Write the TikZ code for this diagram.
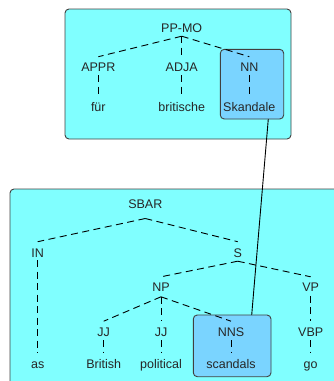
\documentclass[tikz,border=0pt]{standalone}
\usepackage{fontspec}
\setmainfont{Liberation Sans}
\begin{document}
\begin{tikzpicture}[x=1pt,y=-1pt,
  lbl/.style={font=\fontsize{12.5}{14}\selectfont, text=black!85, inner sep=0pt, anchor=base},
  outerbox/.style={draw=black!75, line width=0.9pt, fill={rgb,255:red,128;green,255;blue,255}, rounded corners=4pt},
  innerbox/.style={draw=black!75, line width=0.9pt, fill={rgb,255:red,122;green,212;blue,255}, rounded corners=4pt, inner sep=0pt, outer sep=0pt, anchor=north west},
  treeedge/.style={line width=0.9pt, dash pattern=on 7pt off 4.5pt},
  link/.style={line width=0.9pt}]
\useasboundingbox (0,0) rectangle (334,381);

% container panels
\draw[outerbox] (65,9) rectangle (291,139);
\draw[outerbox] (10,189) rectangle (345,395);

% highlighted leaves
\node[innerbox, minimum width=63.4pt, minimum height=69.7pt] (skbox) at (220.3,49.3) {};
\node[innerbox, minimum width=77.7pt, minimum height=61.7pt] (nnsbox) at (193.3,315) {};

% upper tree
\node[lbl] (ppmo) at (181.7,32.2) {PP-MO};
\node[lbl] (appr) at (98.3,71.2) {APPR};
\node[lbl] (adja) at (181.7,71.2) {ADJA};
\node[lbl] (nn)   at (249.3,71.2) {NN};
\node[lbl] (fuer) at (98.3,111) {für};
\node[lbl] (brit) at (181.7,111) {britische};
\node[lbl] (skan) at (249.3,111) {Skandale};

\foreach \c in {appr,adja,nn}
  \draw[treeedge] ([yshift=-4pt]ppmo.base) -- ([yshift=14.5pt]\c.base);
\draw[treeedge] ([yshift=-4pt]appr.base) -- ([yshift=14pt]fuer.base);
\draw[treeedge] ([yshift=-4pt]adja.base) -- ([yshift=14pt]brit.base);
\draw[treeedge] ([yshift=-4pt]nn.base) -- ([yshift=14pt]skan.base);

% lower tree
\node[lbl] (sbar) at (145.3,208.5) {SBAR};
\node[lbl] (in)   at (37.7,257.2) {IN};
\node[lbl] (s)    at (237.7,257.2) {S};
\node[lbl] (np)   at (161,291.8) {NP};
\node[lbl] (vp)   at (310.7,291.8) {VP};
\node[lbl] (jja)  at (103.7,336.2) {JJ};
\node[lbl] (jjb)  at (161,336.2) {JJ};
\node[lbl] (nns)  at (231,336.2) {NNS};
\node[lbl] (vbp)  at (310.7,336.2) {VBP};
\node[lbl] (as)   at (37.7,368) {as};
\node[lbl] (bri)  at (103.7,368) {British};
\node[lbl] (pol)  at (161,368) {political};
\node[lbl] (sca)  at (231,368) {scandals};
\node[lbl] (go)   at (310.7,368) {go};

\foreach \c in {in,s}
  \draw[treeedge] ([yshift=-10pt]sbar.base) -- ([yshift=15.5pt]\c.base);
\foreach \c in {np,vp}
  \draw[treeedge] ([yshift=-4pt]s.base) -- ([yshift=15pt]\c.base);
\foreach \c in {jja,jjb,nns}
  \draw[treeedge] ([yshift=-5pt]np.base) -- ([yshift=15pt]\c.base);
\draw[treeedge] ([yshift=-4pt]vp.base) -- ([yshift=15pt]vbp.base);
\draw[treeedge] ([yshift=-3pt]in.base) -- ([yshift=15pt]as.base);
\draw[treeedge] ([yshift=-4pt]jja.base) -- ([yshift=16pt]bri.base);
\draw[treeedge] ([yshift=-4pt]jjb.base) -- ([yshift=16pt]pol.base);
\draw[treeedge] ([yshift=-4pt]nns.base) -- ([yshift=16pt]sca.base);
\draw[treeedge] ([yshift=-4pt]vbp.base) -- ([yshift=16pt]go.base);

% alignment link between the two highlighted leaves
\draw[link] ([xshift=-15.4pt]skbox.south east) -- ([xshift=-19.3pt]nnsbox.north east);
\end{tikzpicture}
\end{document}
